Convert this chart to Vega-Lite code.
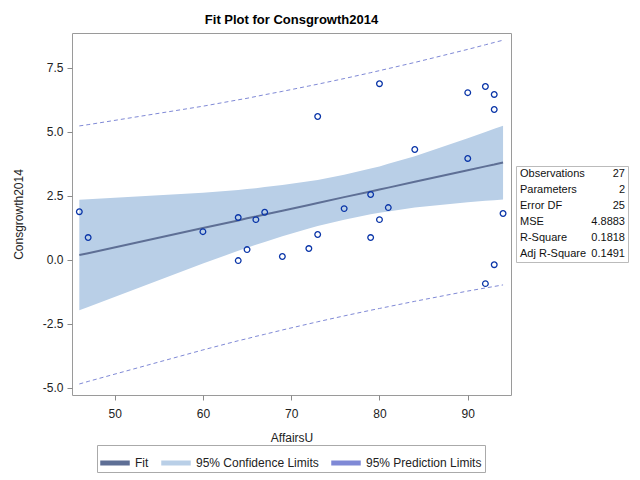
{
  "$schema": "https://vega.github.io/schema/vega-lite/v6.json",
  "autosize": {"type": "pad"},
  "padding": {"left": 11, "top": 13, "right": 5, "bottom": 5},
  "background": "white",
  "config": {
    "font": "Liberation Sans",
    "view": {"stroke": "#9a9a9a"},
    "axis": {"grid": false, "domain": false, "labelFont": "Liberation Sans", "titleFont": "Liberation Sans", "labelFontSize": 12, "titleFontSize": 12, "labelColor": "#222", "titleColor": "#222", "titleFontWeight": "normal", "tickColor": "#8a8a8a", "tickSize": 5}
  },
  "datasets": {
    "obs": [
      {"AffairsU": 46, "Consgrowth2014": 1.87},
      {"AffairsU": 47, "Consgrowth2014": 0.86},
      {"AffairsU": 60, "Consgrowth2014": 1.09},
      {"AffairsU": 64, "Consgrowth2014": 1.64},
      {"AffairsU": 64, "Consgrowth2014": -0.04},
      {"AffairsU": 65, "Consgrowth2014": 0.39},
      {"AffairsU": 66, "Consgrowth2014": 1.56},
      {"AffairsU": 67, "Consgrowth2014": 1.85},
      {"AffairsU": 69, "Consgrowth2014": 0.12},
      {"AffairsU": 72, "Consgrowth2014": 0.43},
      {"AffairsU": 73, "Consgrowth2014": 5.59},
      {"AffairsU": 73, "Consgrowth2014": 0.98},
      {"AffairsU": 76, "Consgrowth2014": 1.99},
      {"AffairsU": 79, "Consgrowth2014": 2.54},
      {"AffairsU": 79, "Consgrowth2014": 0.86},
      {"AffairsU": 80, "Consgrowth2014": 6.87},
      {"AffairsU": 80, "Consgrowth2014": 1.56},
      {"AffairsU": 81, "Consgrowth2014": 2.03},
      {"AffairsU": 84, "Consgrowth2014": 4.30},
      {"AffairsU": 90, "Consgrowth2014": 6.52},
      {"AffairsU": 90, "Consgrowth2014": 3.95},
      {"AffairsU": 92, "Consgrowth2014": 6.76},
      {"AffairsU": 92, "Consgrowth2014": -0.94},
      {"AffairsU": 93, "Consgrowth2014": 6.45},
      {"AffairsU": 93, "Consgrowth2014": 5.86},
      {"AffairsU": 93, "Consgrowth2014": -0.20},
      {"AffairsU": 94, "Consgrowth2014": 1.80}
    ],
    "fit": [
      {"AffairsU": 46, "Fit": 0.18, "LCLM": -1.98, "UCLM": 2.34, "LCL": -4.86, "UCL": 5.22},
      {"AffairsU": 47, "Fit": 0.25, "LCLM": -1.85, "UCLM": 2.36, "LCL": -4.76, "UCL": 5.27},
      {"AffairsU": 60, "Fit": 1.23, "LCLM": -0.15, "UCLM": 2.61, "LCL": -3.53, "UCL": 5.99},
      {"AffairsU": 64, "Fit": 1.53, "LCLM": 0.34, "UCLM": 2.72, "LCL": -3.17, "UCL": 6.24},
      {"AffairsU": 65, "Fit": 1.61, "LCLM": 0.46, "UCLM": 2.76, "LCL": -3.09, "UCL": 6.30},
      {"AffairsU": 66, "Fit": 1.68, "LCLM": 0.58, "UCLM": 2.79, "LCL": -3.00, "UCL": 6.37},
      {"AffairsU": 67, "Fit": 1.76, "LCLM": 0.69, "UCLM": 2.83, "LCL": -2.92, "UCL": 6.44},
      {"AffairsU": 69, "Fit": 1.91, "LCLM": 0.91, "UCLM": 2.91, "LCL": -2.75, "UCL": 6.57},
      {"AffairsU": 72, "Fit": 2.13, "LCLM": 1.21, "UCLM": 3.06, "LCL": -2.51, "UCL": 6.78},
      {"AffairsU": 73, "Fit": 2.21, "LCLM": 1.31, "UCLM": 3.11, "LCL": -2.43, "UCL": 6.85},
      {"AffairsU": 76, "Fit": 2.44, "LCLM": 1.56, "UCLM": 3.31, "LCL": -2.20, "UCL": 7.07},
      {"AffairsU": 79, "Fit": 2.66, "LCLM": 1.77, "UCLM": 3.56, "LCL": -1.98, "UCL": 7.30},
      {"AffairsU": 80, "Fit": 2.74, "LCLM": 1.83, "UCLM": 3.64, "LCL": -1.91, "UCL": 7.38},
      {"AffairsU": 81, "Fit": 2.81, "LCLM": 1.88, "UCLM": 3.74, "LCL": -1.84, "UCL": 7.46},
      {"AffairsU": 84, "Fit": 3.04, "LCLM": 2.03, "UCLM": 4.04, "LCL": -1.63, "UCL": 7.70},
      {"AffairsU": 90, "Fit": 3.49, "LCLM": 2.24, "UCLM": 4.74, "LCL": -1.23, "UCL": 8.21},
      {"AffairsU": 92, "Fit": 3.64, "LCLM": 2.30, "UCLM": 4.98, "LCL": -1.11, "UCL": 8.39},
      {"AffairsU": 93, "Fit": 3.71, "LCLM": 2.32, "UCLM": 5.11, "LCL": -1.05, "UCL": 8.48},
      {"AffairsU": 94, "Fit": 3.79, "LCLM": 2.35, "UCLM": 5.23, "LCL": -0.99, "UCL": 8.57}
    ],
    "stats": [
      {"Statistic": "Observations", "Value": "27"},
      {"Statistic": "Parameters", "Value": "2"},
      {"Statistic": "Error DF", "Value": "25"},
      {"Statistic": "MSE", "Value": "4.8883"},
      {"Statistic": "R-Square", "Value": "0.1818"},
      {"Statistic": "Adj R-Square", "Value": "0.1491"}
    ]
  },
  "hconcat": [
    {
      "width": 439,
      "height": 362,
      "title": {"text": "Fit Plot for Consgrowth2014", "font": "Liberation Sans", "fontSize": 13, "fontWeight": "bold", "color": "#000", "anchor": "middle", "baseline": "alphabetic", "offset": -4},
      "layer": [
        {
          "data": {"name": "fit"},
          "mark": {"type": "area", "opacity": 1},
          "encoding": {
            "x": {"field": "AffairsU", "type": "quantitative", "title": "AffairsU",
              "scale": {"domain": [45.17, 94.9], "nice": false, "zero": false},
              "axis": {"values": [50, 60, 70, 80, 90], "labelPadding": 8, "titlePadding": 13}},
            "y": {"field": "LCLM", "type": "quantitative", "title": "Consgrowth2014",
              "scale": {"domain": [-5.29, 8.85], "nice": false, "zero": false},
              "axis": {"values": [-5, -2.5, 0, 2.5, 5, 7.5], "labelExpr": "replace(format(datum.value, '.1f'), '\u2212', '-')", "labelPadding": 4, "titlePadding": 17}},
            "y2": {"field": "UCLM"},
            "color": {"datum": "95% Confidence Limits",
              "scale": {"domain": ["Fit", "95% Confidence Limits", "95% Prediction Limits"], "range": ["#5e6f95", "#b9cfe7", "#7f89d6"]},
              "legend": {
                "orient": "none", "legendX": 25, "legendY": 412, "direction": "horizontal", "columns": 3,
                "title": null, "labelFont": "Liberation Sans", "labelFontSize": 12, "labelColor": "#222",
                "strokeColor": "#aaaaaa", "fillColor": "white", "padding": 3, "columnPadding": 10,
                "symbolType": "M-1,-0.12H1V0.12H-1Z", "symbolSize": 784, "symbolOpacity": 1, "labelOffset": 5
              }}
          }
        },
        {
          "data": {"name": "fit"},
          "mark": {"type": "line", "strokeWidth": 1, "strokeDash": [4, 3]},
          "encoding": {
            "x": {"field": "AffairsU", "type": "quantitative"},
            "y": {"field": "LCL", "type": "quantitative"},
            "color": {"datum": "95% Prediction Limits"}
          }
        },
        {
          "data": {"name": "fit"},
          "mark": {"type": "line", "strokeWidth": 1, "strokeDash": [4, 3]},
          "encoding": {
            "x": {"field": "AffairsU", "type": "quantitative"},
            "y": {"field": "UCL", "type": "quantitative"},
            "color": {"datum": "95% Prediction Limits"}
          }
        },
        {
          "data": {"name": "fit"},
          "mark": {"type": "line", "strokeWidth": 2},
          "encoding": {
            "x": {"field": "AffairsU", "type": "quantitative"},
            "y": {"field": "Fit", "type": "quantitative"},
            "color": {"datum": "Fit"}
          }
        },
        {
          "data": {"name": "obs"},
          "mark": {"type": "point", "shape": "circle", "filled": false, "size": 32, "strokeWidth": 1.3, "color": "#0a35a8", "opacity": 1},
          "encoding": {
            "x": {"field": "AffairsU", "type": "quantitative"},
            "y": {"field": "Consgrowth2014", "type": "quantitative"}
          }
        }
      ]
    },
    {
      "width": 112,
      "height": 96,
      "view": {"stroke": "#bbbbbb"},
      "data": {"name": "stats"},
      "layer": [
        {
          "mark": {"type": "text", "align": "left", "baseline": "middle", "font": "Liberation Sans", "fontSize": 11, "color": "#111"},
          "encoding": {
            "y": {"field": "Statistic", "type": "ordinal", "sort": null, "axis": null, "scale": {"type": "point", "padding": 0.5}},
            "x": {"datum": 0, "type": "quantitative", "axis": null, "scale": {"domain": [0, 1], "range": [4, 109]}},
            "text": {"field": "Statistic"}
          }
        },
        {
          "mark": {"type": "text", "align": "right", "baseline": "middle", "font": "Liberation Sans", "fontSize": 11, "color": "#111"},
          "encoding": {
            "y": {"field": "Statistic", "type": "ordinal", "sort": null, "axis": null},
            "x": {"datum": 1, "type": "quantitative", "axis": null},
            "text": {"field": "Value"}
          }
        }
      ]
    }
  ],
  "spacing": 5,
  "bounds": "flush",
  "center": true
}
